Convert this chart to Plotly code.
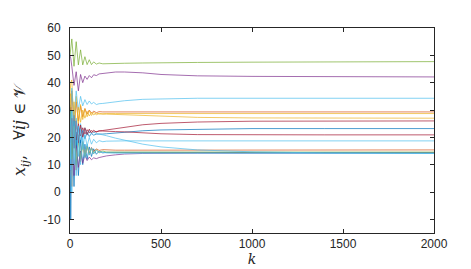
import plotly.graph_objects as go

K = [0, 4, 10, 22, 34, 46, 58, 70, 82, 94, 106, 118, 130, 145, 160, 180, 200,
     250, 300, 400, 500, 700, 1000, 1400, 2000]

green_hi = [50, 54, 56, 46, 55, 46.5, 52, 46.5, 49.5, 46.6, 48.4, 46.6, 47.6, 46.8, 47.2, 46.9, 46.9, 47.0, 47.1, 47.2, 47.3, 47.4, 47.5, 47.6, 47.7]
purple_hi = [50, 49, 46, 39, 44, 37, 43, 40, 42.4, 41.2, 42.6, 41.8, 42.9, 42.6, 43.2, 43.4, 43.6, 43.9, 43.9, 43.6, 43.0, 42.5, 42.3, 42.2, 42.1]
lblue_hi = [24, 32, 38, 27, 37, 30, 35, 31.5, 33.8, 32, 33.3, 32.2, 32.8, 32.0, 32.3, 32.4, 32.6, 33.0, 33.4, 33.9, 34.1, 34.3, 34.3, 34.3, 34.3]
orange_hi = [20, 30, 37, 24, 33, 26, 31.5, 27.5, 30.5, 28.5, 30, 28.8, 29.6, 29.0, 29.4, 29.3, 29.3, 29.3, 29.3, 29.3, 29.3, 29.3, 29.3, 29.3, 29.3]
yellow_a = [26, 36, 20, 33, 23, 31, 25.5, 30, 27, 29.5, 27.8, 29.2, 28.2, 28.9, 28.5, 28.7, 28.7, 28.7, 28.7, 28.7, 28.7, 28.7, 28.7, 28.7, 28.7]
yellow_b = [35, 40, 41, 22, 35, 25, 32, 26.5, 30.5, 27.5, 29.8, 28, 29.2, 28.2, 28.8, 28.5, 28.5, 28.4, 28.3, 28.0, 27.7, 27.3, 27.1, 27.0, 27.0]
red_up = [28, 31, 20, 28, 19, 25, 20.5, 23.5, 21.2, 22.8, 21.6, 22.5, 21.9, 22.2, 22.3, 22.5, 22.7, 23.3, 23.8, 24.6, 25.1, 25.6, 25.9, 26.0, 26.0]
blue_up = [32, 22, 14, 26, 16, 24, 18, 22.5, 19.5, 21.8, 20.3, 21.4, 20.8, 21.2, 21.1, 21.2, 21.3, 21.6, 21.9, 22.4, 22.7, 23.0, 23.2, 23.2, 23.2]
red_down = [18, 24, 27, 16, 26, 18, 24.5, 20, 23.5, 21, 23, 21.6, 22.6, 21.9, 22.4, 22.3, 22.3, 22.1, 22.0, 21.6, 21.3, 21.0, 20.9, 20.9, 20.9]
lblue_down = [12, 26, 30, 16, 27, 18, 25, 20, 23.5, 20.8, 22.5, 21.2, 22, 21.3, 21.2, 21.0, 20.6, 19.7, 18.9, 17.5, 16.5, 15.4, 14.7, 14.3, 14.1]
lblue_mid = [22, 8, 30, 10, 26, 13, 23, 15.5, 21, 16.8, 20, 17.5, 19.3, 18.0, 18.8, 18.4, 18.6, 18.7, 18.7, 18.7, 18.7, 18.7, 18.7, 18.7, 18.7]
orange_lo = [22, 10, 2, 24, 8, 21, 11, 18.5, 13, 17, 14.2, 16.3, 14.8, 15.8, 15.2, 15.5, 15.4, 15.3, 15.3, 15.3, 15.4, 15.4, 15.4, 15.4, 15.4]
green_lo = [20, 30, 12, 24, 10, 20, 12, 18, 13, 16.8, 13.6, 16, 14, 15.5, 14.3, 15, 14.6, 14.6, 14.6, 14.6, 14.6, 14.6, 14.6, 14.6, 14.6]
purple_lo = [18, 8, 20, 6, 17, 9, 15, 10.5, 13.5, 11.5, 12.8, 11.8, 12.5, 12.2, 12.6, 12.9, 13.2, 13.6, 13.9, 14.1, 14.2, 14.2, 14.2, 14.2, 14.2]
blue_deep = [26, -10, 22, 2, 22, 6, 19, 10, 17.5, 12, 16.5, 13, 15.8, 13.8, 15, 14.3, 14.5, 14.5, 14.4, 14.4, 14.4, 14.4, 14.4, 14.4, 14.4]
lblue_lo = [30, 10, 0, 28, 6, 24, 10, 20, 12.5, 17.5, 13.5, 16.2, 14, 15.3, 14.5, 14.6, 14.3, 14.2, 14.2, 14.1, 14.1, 14.1, 14.1, 14.1, 14.1]

BLUE, ORANGE, YELLOW, PURPLE = "#0072BD", "#D95319", "#EDB120", "#7E2F8E"
GREEN, LBLUE, DRED = "#77AC30", "#4DBEEE", "#A2142F"

series = [
    (blue_deep, BLUE), (orange_hi, ORANGE), (yellow_b, YELLOW), (purple_hi, PURPLE),
    (green_hi, GREEN), (lblue_hi, LBLUE), (red_up, DRED), (blue_up, BLUE),
    (orange_lo, ORANGE), (yellow_a, YELLOW), (purple_lo, PURPLE), (green_lo, GREEN),
    (lblue_down, LBLUE), (red_down, DRED), (lblue_mid, LBLUE), (lblue_lo, LBLUE),
]

y_ticks = [-10, 0, 10, 20, 30, 40, 50, 60]
x_ticks = [0, 500, 1000, 1500, 2000]

fig = go.Figure()
for vals, col in series:
    fig.add_trace(go.Scatter(x=K, y=vals, mode="lines",
                             line=dict(color=col, width=0.7), showlegend=False,
                             hoverinfo="skip"))

axis_common = dict(showline=True, linecolor="#262626", linewidth=0.8, mirror="ticks",
                   ticks="inside", ticklen=4, tickwidth=0.8, tickcolor="#262626",
                   showgrid=False, zeroline=False,
                   tickfont=dict(family="Liberation Sans, Arial, sans-serif", size=12, color="#262626"))

fig.update_layout(
    width=471, height=269,
    margin=dict(l=62, r=45, t=20, b=44),
    paper_bgcolor="white", plot_bgcolor="white",
    xaxis=dict(range=[0, 2000], tickvals=x_ticks, ticktext=[str(v) for v in x_ticks],
               title=dict(text="<i>k</i>", standoff=1,
                          font=dict(family="DejaVu Serif, serif", size=14, color="#262626")),
               **axis_common),
    yaxis=dict(range=[-15, 60], tickvals=y_ticks, ticktext=[str(v) for v in y_ticks],
               ticklabelstandoff=6,
               title=dict(text="<i>x</i><sub><i>ij</i></sub>,   \u2200<i>ij</i> \u2208 \U0001D4B1",
                          standoff=13,
                          font=dict(family="DejaVu Serif, serif", size=16, color="#262626")),
               **axis_common),
)

fig.write_html("out.html")
